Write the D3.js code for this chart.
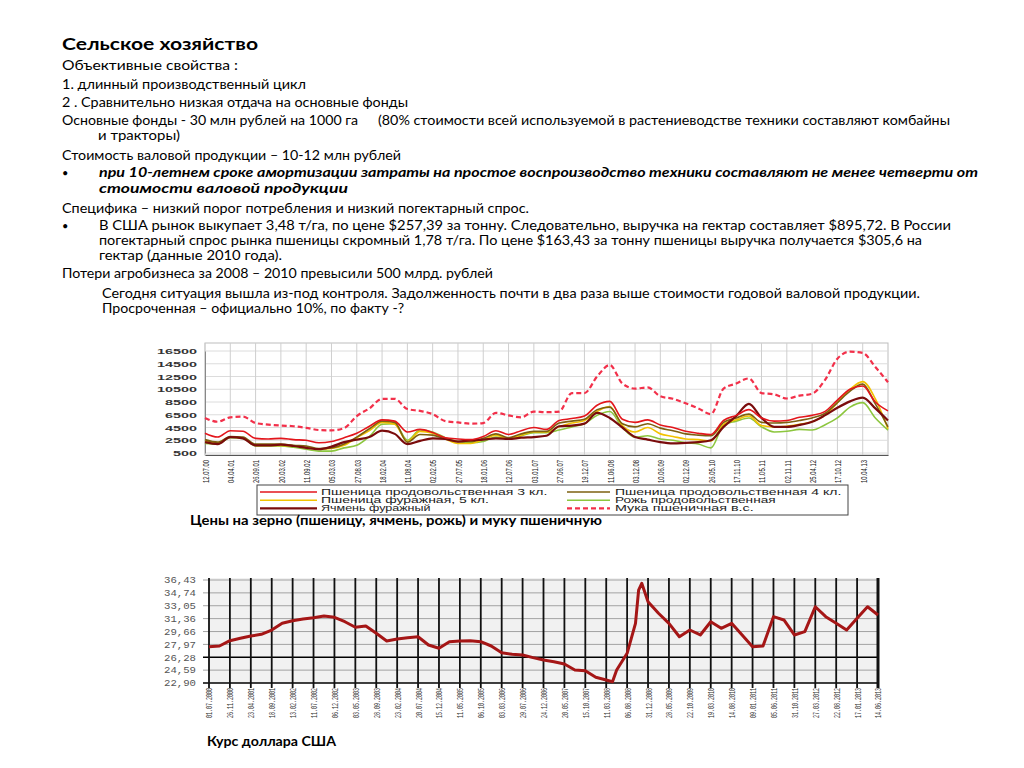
<!DOCTYPE html>
<html>
<head>
<meta charset="utf-8">
<script src="https://cdn.jsdelivr.net/npm/d3@7"></script>
<style>
body { margin: 0; background: #fff; }
svg { display: block; }
</style>
</head>
<body>
<script>
// ---- grain prices (руб/т), read at half-tick steps ----
const grainDates = ["12.07.00", "04.04.01", "26.09.01", "20.03.02", "11.09.02", "05.03.03", "27.08.03",
    "18.02.04", "11.08.04", "02.02.05", "27.07.05", "18.01.06", "12.07.06", "03.01.07", "27.06.07",
    "19.12.07", "11.06.08", "03.12.08", "10.06.09", "02.12.09", "26.05.10", "17.11.10", "11.05.11",
    "02.11.11", "25.04.12", "17.10.12", "10.04.13"];
const grainTicks = [500, 2500, 4500, 6500, 8500, 10500, 12500, 14500, 16500];
const grainIdx = d3.range(0, 27.01, 0.5);

const wheat3 = [3600, 3000, 4000, 3900, 2800, 2700, 2800, 2600, 2500, 2100, 2300, 2900, 3600, 4700, 5700, 5500, 3800, 4200, 3700, 2900,
    2700, 2600, 3100, 4000, 3400, 4000, 4500, 4200, 5600, 5900, 6300, 8000, 8600, 5800, 5300, 5700, 4900, 4500, 3900, 3600,
    3400, 5600, 6400, 7300, 6000, 5500, 5600, 6100, 6400, 7000, 8800, 10500, 11000, 8500, 7100];
const wheat4 = [2600, 2200, 3100, 3000, 1900, 1900, 1900, 1700, 1600, 1200, 1300, 1900, 3000, 4300, 5500, 5300, 2200, 3400, 3300, 2700,
    2300, 2300, 2800, 3500, 2900, 3500, 3900, 3900, 5200, 5500, 5800, 7300, 7700, 5100, 4600, 5100, 4400, 4000, 3500, 3300,
    3200, 5300, 6000, 6600, 5300, 5200, 5300, 5600, 6000, 6700, 8400, 10200, 11300, 8200, 4600];
const wheat5 = [2400, 2100, 3000, 2900, 1700, 1700, 1700, 1600, 1400, 1100, 1200, 1700, 2900, 4000, 5300, 5000, 2300, 3900, 3600, 2700,
    2000, 2000, 2600, 3300, 2700, 3300, 3800, 3800, 4600, 5200, 5600, 7000, 7800, 4800, 3800, 4500, 3500, 3100, 2700, 2600,
    2400, 5000, 5700, 6300, 4800, 4600, 4700, 5000, 5400, 6400, 8400, 10500, 11700, 9000, 4300];
const rye = [2000, 1900, 2900, 2800, 1600, 1600, 1600, 1400, 1100, 800, 800, 1300, 1700, 3100, 5000, 5100, 2500, 4100, 3800, 2900,
    2300, 2100, 2300, 3000, 2700, 3200, 3700, 3700, 4100, 4600, 5100, 6400, 7000, 4500, 3000, 3200, 2700, 2500, 2100, 1900,
    1300, 4900, 5500, 6000, 4600, 3800, 3900, 4200, 4100, 4900, 6000, 7700, 8400, 6000, 4100];
const barley = [2200, 1900, 3000, 2800, 1700, 1700, 1800, 1600, 1300, 1100, 1500, 2200, 2600, 3000, 4000, 3500, 1900, 2400, 2800, 2700,
    2300, 2500, 2600, 2800, 2700, 2900, 3000, 3200, 4700, 4800, 5100, 6800, 6000, 4500, 3000, 2600, 2200, 2000, 2100, 2200,
    2500, 4600, 6300, 8200, 6000, 4600, 4600, 4900, 5400, 6400, 7600, 8600, 9200, 7500, 5600];
const flour = [6000, 5400, 6100, 6200, 5200, 4950, 4800, 4700, 4450, 4100, 4050, 4400, 6300, 7500, 9000, 9000, 7400, 7100, 6600, 5500,
    5300, 5100, 5200, 6800, 6400, 6100, 7000, 6900, 7000, 9900, 9900, 12500, 14300, 11400, 10600, 10800, 9400, 9000, 8300, 7500,
    6600, 10600, 11400, 12200, 9900, 9700, 9050, 9500, 9800, 11900, 15300, 16400, 16200, 14000, 11600];

const grainSeries = [
    { name: "Рожь продовольственная", values: rye, color: "#8cc63e", col: 1, row: 1 },
    { name: "Пшеница фуражная, 5 кл.", values: wheat5, color: "#f2c200", col: 0, row: 1 },
    { name: "Пшеница продовольственная 4 кл.", values: wheat4, color: "#7d6010", col: 1, row: 0 },
    { name: "Ячмень фуражный", values: barley, color: "#7a0c0c", col: 0, row: 2, width: 2.2 },
    { name: "Пшеница продовольственная 3 кл.", values: wheat3, color: "#e3161c", col: 0, row: 0 },
    { name: "Мука пшеничная в.с.", values: flour, color: "#f2304a", col: 1, row: 2, dash: "5,3", width: 2.2 }
];

// ---- USD rate ----
const usdTicks = [22.90, 24.59, 26.28, 27.97, 29.66, 31.36, 33.05, 34.74, 36.43];
const usdDates = ["01.07.2000", "26.11.2000", "23.04.2001", "18.09.2001", "13.02.2002", "11.07.2002", "06.12.2002",
    "03.05.2003", "28.09.2003", "23.02.2004", "20.07.2004", "15.12.2004", "11.05.2005", "06.10.2005", "03.03.2006",
    "29.07.2006", "24.12.2006", "20.05.2007", "15.10.2007", "11.03.2008", "06.08.2008", "31.12.2008", "28.05.2009",
    "22.10.2009", "19.03.2010", "14.08.2010", "09.01.2011", "05.06.2011", "31.10.2011", "27.03.2012", "22.08.2012",
    "17.01.2013", "14.06.2013"];
const usdIdx = [0, 0.5, 1, 1.5, 2, 2.5, 3, 3.5, 4, 4.5, 5, 5.5, 6, 6.5, 7, 7.5, 8, 8.5, 9, 9.5,
    10, 10.5, 11, 11.5, 12, 12.5, 13, 13.5, 14, 14.5, 15, 15.5, 16, 16.5, 17, 17.5, 18, 18.5, 19, 19.3,
    19.5, 20, 20.4, 20.55, 20.7, 21, 21.5, 22, 22.5, 23, 23.5, 24, 24.5, 25, 25.5, 26, 26.5, 27, 27.5, 28,
    28.5, 29, 29.5, 30, 30.5, 31, 31.5, 32];
const usdRate = [27.67, 27.76, 28.46, 28.77, 29.07, 29.30, 29.86, 30.74, 31.08, 31.31, 31.48, 31.70, 31.53, 30.95, 30.22, 30.39, 29.43, 28.42, 28.68, 28.85,
    28.98, 27.89, 27.46, 28.33, 28.42, 28.46, 28.33, 27.76, 26.88, 26.67, 26.58, 26.23, 25.92, 25.70, 25.40, 24.61, 24.52, 23.65, 23.29, 23.07,
    24.61, 26.80, 30.74, 35.10, 36.00, 33.58, 32.06, 30.74, 28.98, 29.86, 29.21, 30.95, 30.08, 30.74, 29.21, 27.67, 27.76, 31.61, 31.18, 29.21,
    29.64, 32.92, 31.61, 30.74, 29.86, 31.40, 32.92, 31.83];

const svg = d3.select("body").append("svg")
    .attr("width", 1024)
    .attr("height", 768);

const bodyFont = "Lato, 'Open Sans', sans-serif";
const chartFont = "'Liberation Sans', Arial, sans-serif";
const monoFont = "'Liberation Mono', 'DejaVu Sans Mono', monospace";

// ---- slide text ----
function line(t, x, y, w, opt) {
    opt = opt || {};
    const el = svg.append("text")
        .attr("x", x).attr("y", y)
        .attr("font-family", bodyFont)
        .attr("font-size", opt.size || 14)
        .attr("fill", "#000")
        .text(t);
    if (opt.bold) el.attr("font-weight", "bold");
    if (opt.italic) el.attr("font-style", "italic");
    if (w) el.attr("textLength", w).attr("lengthAdjust", "spacingAndGlyphs");
    return el;
}

line("Сельское хозяйство", 62, 50, 196, { bold: true, size: 17 });
line("Объективные свойства :", 62, 70, 176);
line("1. длинный производственный цикл", 62, 89, 244);
line("2 . Сравнительно низкая отдача на основные фонды", 62, 107, 346);
line("Основные фонды - 30 млн рублей на 1000 га", 62, 125, 296);
line("(80% стоимости всей используемой в растениеводстве техники составляют комбайны", 378, 125, 572);
line("и тракторы)", 98, 140, 82);
line("Стоимость валовой продукции – 10-12 млн рублей", 62, 160, 339);
line("•", 62, 177, null, { size: 11 });
line("при 10-летнем сроке амортизации затраты на простое воспроизводство техники составляют не менее четверти от", 99, 177, 879, { bold: true, italic: true });
line("стоимости валовой продукции", 99, 193, 249, { bold: true, italic: true });
line("Специфика – низкий порог потребления и низкий погектарный спрос.", 62, 213, 467);
line("•", 62, 230, null, { size: 11 });
line("В США рынок выкупает 3,48 т/га, по цене $257,39 за тонну. Следовательно, выручка на гектар составляет $895,72. В России", 99, 230, 852);
line("погектарный спрос рынка пшеницы скромный 1,78 т/га. По цене $163,43 за тонну пшеницы выручка получается $305,6 на", 99, 245, 823);
line("гектар (данные 2010 года).", 99, 260, 183);
line("Потери агробизнеса за 2008 – 2010 превысили 500 млрд. рублей", 62, 278, 431);
line("Сегодня ситуация вышла из-под контроля. Задолженность почти  в два раза выше стоимости годовой валовой продукции.", 102, 298, 818);
line("Просроченная – официально 10%, по факту -?", 102, 313, 302);

// ---- chart 1: grain prices ----
const x1 = d3.scaleLinear().domain([0, 27]).range([205, 888]);
const y1 = d3.scaleLinear().domain([500, 16500]).range([453, 351]);
const c1 = svg.append("g");

c1.append("rect")
    .attr("x", 205).attr("y", 343)
    .attr("width", 683).attr("height", 112)
    .attr("fill", "#fff").attr("stroke", "#bdbdbd");

c1.selectAll(".hg").data(grainTicks).join("line")
    .attr("x1", 205).attr("x2", 888)
    .attr("y1", d => y1(d)).attr("y2", d => y1(d))
    .attr("stroke", "#dcdcdc");

c1.selectAll(".vg").data(grainDates).join("line")
    .attr("x1", (d, i) => x1(i)).attr("x2", (d, i) => x1(i))
    .attr("y1", 343).attr("y2", 455)
    .attr("stroke", "#cfcfcf");

const ax1y = c1.append("g")
    .attr("transform", "translate(205,0)")
    .call(d3.axisLeft(y1).tickValues(grainTicks).tickSize(0).tickPadding(8).tickFormat(d3.format("d")));
ax1y.select(".domain").attr("stroke", "#888");
ax1y.selectAll("text")
    .attr("font-family", chartFont).attr("font-size", 8).attr("font-weight", "bold").attr("fill", "#333")
    .attr("textLength", d => String(d).length * 8).attr("lengthAdjust", "spacingAndGlyphs");

const ax1x = c1.append("g")
    .attr("transform", "translate(0,455)")
    .call(d3.axisBottom(x1).tickValues(d3.range(grainDates.length)).tickFormat(i => grainDates[i]).tickSize(0));
ax1x.select(".domain").attr("stroke", "#555");
ax1x.selectAll("text")
    .attr("transform", "rotate(-90)")
    .attr("text-anchor", "end")
    .attr("x", -5).attr("y", 0).attr("dy", "0.35em")
    .attr("font-family", chartFont).attr("font-size", 9.5).attr("fill", "#222")
    .attr("textLength", 23).attr("lengthAdjust", "spacingAndGlyphs");

const grainLine = d3.line()
    .x((d, i) => x1(grainIdx[i]))
    .y(d => y1(d))
    .curve(d3.curveMonotoneX);

c1.selectAll(".series").data(grainSeries).join("path")
    .attr("d", d => grainLine(d.values))
    .attr("fill", "none")
    .attr("stroke", d => d.color)
    .attr("stroke-width", d => d.width || 1.6)
    .attr("stroke-dasharray", d => d.dash || null)
    .attr("stroke-linejoin", "round");

// legend
const lg = c1.append("g");
lg.append("rect")
    .attr("x", 257).attr("y", 485).attr("width", 591).attr("height", 30)
    .attr("fill", "#fff").attr("stroke", "#444");
const colLine = [[260, 317], [567, 610]];
const colText = [321, 615];
grainSeries.forEach(s => {
    const yy = 492 + s.row * 8.2;
    lg.append("line")
        .attr("x1", colLine[s.col][0]).attr("x2", colLine[s.col][1])
        .attr("y1", yy).attr("y2", yy)
        .attr("stroke", s.color).attr("stroke-width", s.width || 1.6)
        .attr("stroke-dasharray", s.dash || null);
    lg.append("text")
        .attr("x", colText[s.col]).attr("y", yy + 3)
        .attr("font-family", chartFont).attr("font-size", 8.5).attr("fill", "#222")
        .attr("textLength", s.name.length * 7.3).attr("lengthAdjust", "spacingAndGlyphs")
        .text(s.name);
});

line("Цены на зерно (пшеницу, ячмень, рожь) и муку пшеничную", 190, 525, 412, { bold: true, size: 12.5 });

// ---- chart 2: USD rate ----
const x2 = d3.scaleLinear().domain([0, 32]).range([209, 878]);
const y2 = d3.scaleLinear().domain([22.90, 36.43]).range([683, 580]);
const c2 = svg.append("g");

c2.append("rect")
    .attr("x", 209).attr("y", 578)
    .attr("width", 669).attr("height", 105)
    .attr("fill", "#f1f1f1");

c2.selectAll(".hg").data(usdTicks).join("line")
    .attr("x1", 203).attr("x2", 878)
    .attr("y1", d => y2(d)).attr("y2", d => y2(d))
    .attr("stroke", d => d === 26.28 || d === 22.90 ? "#000" : "#9a9a9a")
    .attr("stroke-width", d => d === 26.28 || d === 22.90 ? 1.3 : 0.9);

c2.selectAll(".vg").data(usdDates).join("line")
    .attr("x1", (d, i) => x2(i)).attr("x2", (d, i) => x2(i))
    .attr("y1", 578).attr("y2", 688)
    .attr("stroke", "#111")
    .attr("stroke-width", (d, i) => i === usdDates.length - 1 ? 3 : 1.8);

const ax2y = c2.append("g")
    .attr("transform", "translate(209,0)")
    .call(d3.axisLeft(y2).tickValues(usdTicks).tickSize(0).tickPadding(13).tickFormat(d => d3.format(".2f")(d).replace(".", ",")));
ax2y.select(".domain").remove();
ax2y.selectAll("text")
    .attr("font-family", monoFont).attr("font-size", 8.5).attr("fill", "#555")
    .attr("textLength", 32).attr("lengthAdjust", "spacingAndGlyphs");

const ax2x = c2.append("g")
    .attr("transform", "translate(0,683)")
    .call(d3.axisBottom(x2).tickValues(d3.range(usdDates.length)).tickFormat(i => usdDates[i]).tickSize(0));
ax2x.select(".domain").remove();
ax2x.selectAll("text")
    .attr("transform", "rotate(-90)")
    .attr("text-anchor", "end")
    .attr("x", -5).attr("y", 0).attr("dy", "0.35em")
    .attr("font-family", monoFont).attr("font-size", 8.5).attr("fill", "#333")
    .attr("textLength", 30).attr("lengthAdjust", "spacingAndGlyphs");

const usdLine = d3.line()
    .x((d, i) => x2(usdIdx[i]))
    .y(d => y2(d));

c2.append("path")
    .attr("d", usdLine(usdRate))
    .attr("fill", "none")
    .attr("stroke", "#a51616")
    .attr("stroke-width", 3)
    .attr("stroke-linejoin", "round");

line("Курс доллара США", 207, 746, 129, { bold: true, size: 12.5 });
</script>
</body>
</html>
